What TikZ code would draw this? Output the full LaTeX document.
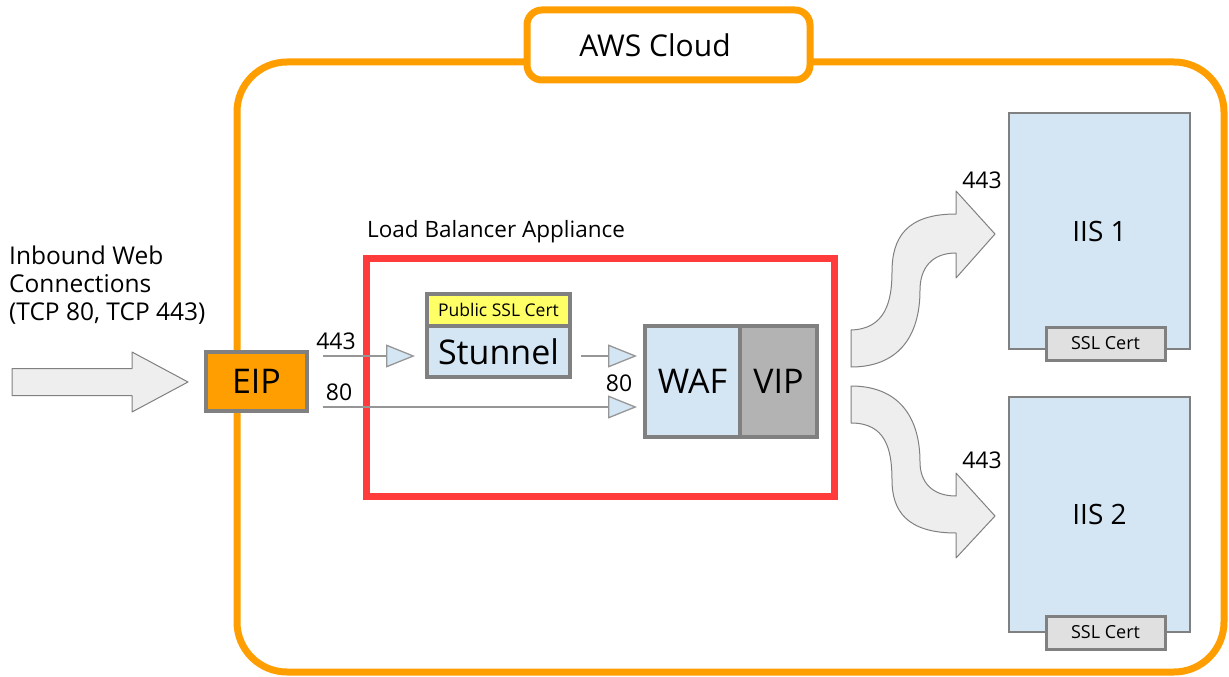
\documentclass[tikz,border=0pt]{standalone}
\usepackage{fontspec}
\setmainfont{Open Sans}
\usetikzlibrary{arrows.meta}
\definecolor{awsorange}{RGB}{255,158,0}
\definecolor{lbred}{RGB}{255,59,59}
\definecolor{lightblue}{RGB}{212,230,244}
\definecolor{boxgray}{RGB}{128,128,128}
\definecolor{vipgray}{RGB}{179,179,179}
\definecolor{arrowfill}{RGB}{238,238,238}
\definecolor{certyellow}{RGB}{255,255,102}
\definecolor{certgray}{RGB}{224,224,224}
\definecolor{linegray}{RGB}{150,150,150}
\tikzset{
  thickbox/.style={draw=boxgray, line width=4pt, inner sep=0pt, rectangle},
  server/.style={draw=boxgray, line width=1.2pt, fill=lightblue, inner sep=0pt, rectangle, minimum width=181pt},
  certbox/.style={draw=boxgray, line width=3pt, fill=certgray, inner sep=0pt, minimum width=119pt, minimum height=33pt, font=\fontsize{18}{21}\selectfont},
  flow/.style={draw=linegray, line width=1.3pt, -{Triangle[length=29pt,width=23pt,fill=lightblue]}},
  lbl/.style={inner sep=0pt, font=\fontsize{23}{27}\selectfont},
  fatarrow/.style={draw=boxgray, line width=1pt, fill=arrowfill, line join=round},
  bigtext/.style={font=\fontsize{34}{38}\selectfont},
}
\begin{document}
\begin{tikzpicture}[x=1pt,y=-1pt]
\useasboundingbox (0,0) rectangle (1229,677);
% AWS cloud
\node[draw=awsorange, line width=7pt, rounded corners=50pt, minimum width=987pt, minimum height=610pt, inner sep=0pt] (cloud) at (730.5,367) {};
\node[draw=awsorange, line width=7pt, rounded corners=15pt, fill=white, minimum width=283pt, minimum height=70pt, inner sep=0pt] (awslabel) at (668.5,45) {};
\node[inner sep=0pt, font=\fontsize{30}{34}\selectfont] (awstext) at (655,45) {AWS Cloud};
% inbound text
\node[anchor=north west, align=left, inner sep=0pt, font=\fontsize{24.5}{28}\selectfont] (inbound) at (9,246) {Inbound Web\\Connections\\(TCP 80, TCP 443)};
% fat arrow
\draw[fatarrow] (12,368.5) -- (132,368.5) -- (132,352) -- (188,382) -- (132,412) -- (132,395.5) -- (12,395.5) -- cycle;
% EIP
\node[thickbox, bigtext, fill=awsorange, minimum width=101pt, minimum height=59pt] (eip) at (256.5,381.5) {EIP};
% Load balancer
\node[anchor=west, inner sep=0pt, font=\fontsize{22.5}{26}\selectfont] (lbtitle) at (367,232) {Load Balancer Appliance};
\node[draw=lbred, line width=7pt, minimum width=468pt, minimum height=238pt, inner sep=0pt] (lba) at (600,377) {};
% stunnel
\node[thickbox, fill=certyellow, minimum width=143pt, minimum height=32pt, font=\fontsize{17.5}{20}\selectfont] (pubcert) at (498.5,310) {Public SSL Cert};
\node[thickbox, bigtext, fill=lightblue, minimum width=143pt, minimum height=51pt] (stunnel) at (498.5,351.5) {Stunnel};
% WAF VIP
\node[thickbox, bigtext, fill=lightblue, minimum width=95pt, minimum height=111pt] (waf) at (692.5,381.5) {WAF};
\node[thickbox, bigtext, fill=vipgray, minimum width=77pt, minimum height=111pt] (vip) at (778.5,381.5) {VIP};
% flows
\coordinate (s443) at (323,356);
\coordinate (s80) at (323,407);
\draw[flow] (s443) -- ([xshift=-10pt]stunnel.west |- s443);
\draw[flow] ([xshift=9pt]stunnel.east |- s443) -- ([xshift=-6pt]waf.west |- s443);
\draw[flow] (s80) -- ([xshift=-6pt]waf.west |- s80);
\node[lbl] (l443) at (336,341) {443};
\node[lbl] (l80a) at (339,392) {80};
\node[lbl] (l80b) at (619,383) {80};
% servers
\node[server, minimum height=236pt, font=\fontsize{28}{32}\selectfont] (iis1) at (1099.5,231) {IIS 1};
\node[certbox] (cert1) at (1105.5,343.5) {SSL Cert};
\node[server, minimum height=235pt, font=\fontsize{28}{32}\selectfont] (iis2) at (1099.5,514.5) {IIS 2};
\node[certbox] (cert2) at (1105.5,632.5) {SSL Cert};
\node[lbl] (l443a) at (982,180) {443};
\node[lbl] (l443b) at (982,460) {443};
% curved arrows
\draw[fatarrow] (851,330) .. controls (885,329) and (892,302) .. (892,272)
  .. controls (892,238) and (906,214) .. (956,214) -- (956,191) -- (995,234) -- (956,278) -- (956,253)
  .. controls (932,253) and (920,268) .. (920,290)
  .. controls (920,338) and (897,367) .. (851,367) -- cycle;
\draw[fatarrow] (851,386) .. controls (897,386) and (920,415) .. (920,462)
  .. controls (920,482) and (932,496) .. (956,496) -- (956,473) -- (995,516) -- (956,558) -- (956,533)
  .. controls (906,533) and (892,510) .. (892,480)
  .. controls (892,448) and (885,423) .. (851,423) -- cycle;
\end{tikzpicture}
\end{document}
